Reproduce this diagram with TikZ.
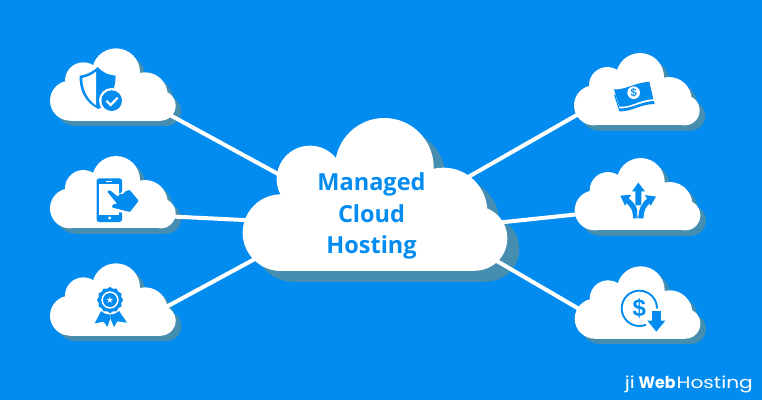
\documentclass[tikz,border=0pt]{standalone}
\usepackage{fontspec}
\usepackage{graphicx}
\setmainfont{Liberation Sans}
\newfontfamily\titlefont{Open Sans}
\newfontfamily\logofont{Poppins}
\newfontfamily\symfont{DejaVu Sans}
\definecolor{bgblue}{HTML}{038CF0}
\definecolor{shadowblue}{HTML}{458EB0}
\newcommand{\smallshape}{%
  \fill (120,212) circle (60);
  \fill (160,152) circle (55);
  \fill (258,127) circle (72);
  \fill (345,195) circle (68);
  \fill (392,227) circle (45);
  \fill (120,200) rectangle (392,272);
  \fill (160,150) rectangle (345,230);
}
\newcommand{\bigshape}{%
  \fill (153,368) circle (115);
  \fill (240,207) circle (100);
  \fill (463,172) circle (148);
  \fill (640,305) circle (132);
  \fill (735,385) circle (97);
  \fill (153,330) rectangle (735,483);
  \fill (240,200) rectangle (640,400);
}
\tikzset{
  zoomframe/.style={shift={(#1)},scale=1/3},
  linkline/.style={white,line width=4pt},
  icon/.style={fill=bgblue,draw=none},
  iconline/.style={draw=bgblue,line width=1.9pt},
  whitefill/.style={fill=white,draw=none},
}
\begin{document}
\begin{tikzpicture}[x=1pt,y=-1pt]
\path[use as bounding box,fill=bgblue] (0,0) rectangle (762,400);
% anchors
\coordinate (hubA) at (285,177.8);
\coordinate (hubB) at (252,220.4);
\coordinate (hubC) at (262,255.1);
\coordinate (hubD) at (463,180);
\coordinate (hubE) at (495,223);
\coordinate (hubF) at (490,257);
\coordinate (leafA) at (165,112.3);
\coordinate (leafB) at (168,216.3);
\coordinate (leafC) at (158,311.4);
\coordinate (leafD) at (585,110.3);
\coordinate (leafE) at (585,213.5);
\coordinate (leafF) at (586,313);
% shadows
\begin{scope}[fill=shadowblue]
\begin{scope}[zoomframe={242,120.7}]\bigshape\end{scope}
\foreach \p in {{35.5,35.3},{35.5,143},{35.5,250.3},{559.5,40},{560.2,145},{560.2,253.3}}{
  \begin{scope}[zoomframe/.expanded={\p}]\smallshape\end{scope}
}
\end{scope}
% connectors
\draw[linkline] (leafA) -- (hubA);
\draw[linkline] (leafB) -- (hubB);
\draw[linkline] (leafC) -- (hubC);
\draw[linkline] (leafD) -- (hubD);
\draw[linkline] (leafE) -- (hubE);
\draw[linkline] (leafF) -- (hubF);
% clouds
\begin{scope}[fill=white]
\begin{scope}[zoomframe={230,110}]\bigshape\end{scope}
\foreach \p in {{30,30},{30,137.7},{30,245},{554,34.7},{554.7,139.7},{554.7,248}}{
  \begin{scope}[zoomframe/.expanded={\p}]\smallshape\end{scope}
}
\end{scope}
% title
\node[text=bgblue,align=center,font=\titlefont\bfseries\fontsize{23.5}{31.7}\selectfont,inner sep=0pt] (title) at (371.5,216) {Managed\\Cloud\\Hosting};
% shield
\begin{scope}[zoomframe={30,30}]
\fill[icon] (203,111) .. controls (185,129) and (165,135) .. (149,137) .. controls (147,180) and (165,217) .. (205,237) .. controls (240,220) and (256,180) .. (257,137) .. controls (235,135) and (220,129) .. (203,111) -- cycle;
\fill[whitefill] (198,125) .. controls (185,136) and (170,141) .. (157,144) .. controls (157,178) and (172,208) .. (198,226) -- cycle;
\fill[whitefill] (245,212) circle (38);
\fill[icon] (245,212) circle (31);
\draw[white,line width=2.2pt,line join=miter] (229,212) -- (242,225) -- (263,203);
\end{scope}
% phone
\begin{scope}[zoomframe={30,150}]
\fill[icon,rounded corners=2.5pt] (200,85) rectangle (276,216);
\fill[whitefill] (208,101) rectangle (268,196);
\fill[whitefill] (228,93) rectangle (247,97);
\fill[whitefill] (239,204) circle (5);
\fill[whitefill,rounded corners=1pt] (222,115) -- (240,112) -- (268,132) -- (298,110) -- (336,152) -- (302,195) -- (238,178) -- (238,158) -- cycle;
\fill[icon,rounded corners=1pt] (231,124) -- (239,120) -- (265,141) -- (268,131) -- (280,133) -- (283,126) -- (298,119) -- (326,152) -- (300,186) -- (245,172) -- (250,162) -- (262,162) -- cycle;
\end{scope}
% badge
\begin{scope}[zoomframe={30,150}]
\fill[icon] (216,478) -- (194,520) -- (221,515) -- (232,531) -- (241,505) -- (241,480) -- cycle;
\fill[icon] (264,478) -- (291,518) -- (262,514) -- (252,531) -- (241,505) -- (241,480) -- cycle;
\fill[whitefill] (240,451) circle (42);
\fill[icon] plot[smooth cycle,samples=24,domain=0:345,variable=\a] ({240+(37+2.2*cos(12*\a))*cos(\a)},{450+(37+2.2*cos(12*\a))*sin(\a)});
\fill[whitefill] (240,450) circle (26);
\fill[icon] (240,450) circle (21);
\node[text=white,font=\symfont\fontsize{9}{9}\selectfont,inner sep=0pt] (badgestar) at (240,450) {★};
\end{scope}
% money
\begin{scope}[zoomframe={560,50}]
\fill[icon] (162,118) .. controls (190,122) and (225,98) .. (268,95) -- (280,148) .. controls (240,148) and (215,172) .. (178,170) -- cycle;
\fill[icon] (162,134) -- (166,134) -- (178,175) .. controls (215,177) and (240,155) .. (282,153) -- (284,162) .. controls (240,162) and (215,186) .. (178,184) -- cycle;
\fill[whitefill] (221,128) circle (19);
\node[text=bgblue,font=\bfseries\fontsize{11}{11}\selectfont,inner sep=0pt] (moneysign) at (221,128) {\$};
\end{scope}
% arrows
\begin{scope}[zoomframe={560,50}]
\fill[icon] (235,398) -- (255,424) -- (244,424) -- (244,466) -- (226,466) -- (226,424) -- (216,424) -- cycle;
\draw[white,line width=6.6pt] (270,450) .. controls (250,463) and (243,480) .. (243,505);
\draw[bgblue,line width=5.2pt] (198,450) .. controls (220,463) and (227,480) .. (227,505);
\draw[white,line width=0.7pt] (231,505) .. controls (231,488) and (235,475) .. (240,467);
\draw[bgblue,line width=5.2pt] (270,450) .. controls (250,463) and (243,480) .. (243,505);
\fill[icon] (181,437) -- (213,434) -- (195,467) -- cycle;
\fill[icon] (288,440) -- (255,435) -- (272,467) -- cycle;
\end{scope}
% dollar down
\begin{scope}[zoomframe={560,260}]
\draw[iconline] (238,145) circle (53);
\fill[whitefill] (238,145) -- (320,135) -- (320,220) -- (250,220) -- cycle;
\draw[iconline] (290.5,137) .. controls (291,140) and (291,143) .. (291,146);
\draw[iconline] (238,198) .. controls (245,198) and (252,197) .. (258,194);
\fill[icon] (275,153) rectangle (303,182);
\fill[icon] (262,182) -- (316,182) -- (289,215) -- cycle;
\node[text=bgblue,font=\bfseries\fontsize{24}{24}\selectfont,inner sep=0pt] (dollarsign) at (238,145) {\$};
\end{scope}
% logo
\node[anchor=base east,text=white,inner sep=0pt,xscale=1.22,font=\logofont\fontsize{16.5}{16.5}\selectfont] (logo) at (753,388.5) {ji\kern3pt\scalebox{0.78}[1]{\textbf{Web}}\kern1ptHosting};
\end{tikzpicture}
\end{document}
